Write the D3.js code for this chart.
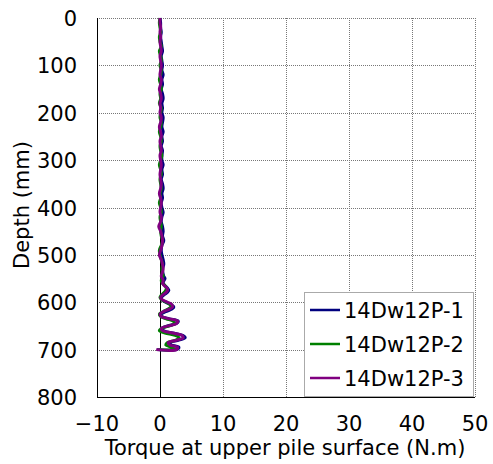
<!DOCTYPE html>
<html>
<head>
<meta charset="utf-8">
<script src="https://cdn.jsdelivr.net/npm/d3@7"></script>
<style>
  body { margin: 0; background: #fff; }
  text { font-family: "DejaVu Sans", sans-serif; fill: #000; }
</style>
</head>
<body>
<div id="chart"></div>
<script>
// depth (mm) shared by the three series, last point closes the curve back at the pile tip
const depths = [
  0,10,20,30,40,50,60,70,80,90,100,110,120,130,140,150,160,170,180,190,
  200,210,220,230,240,250,260,270,280,290,300,310,320,330,340,350,360,370,380,390,
  400,410,420,430,440,450,460,470,480,490,500,510,520,530,540,
  545,550,555,560,565,570,575,580,585,590,595,600,605,610,615,620,625,630,635,640,
  645,650,655,660,665,670,675,680,685,690,695,700,700
];
const seriesNames = ["14Dw12P-1", "14Dw12P-2", "14Dw12P-3"];
const colors = ["#00007f", "#008000", "#800080"];

// torque (N.m)
const torqueP1 = [
  0.0,0.1,0.1,0.2,0.1,0.2,0.3,0.4,0.2,0.3,0.4,0.3,0.5,0.3,0.4,0.2,0.4,0.5,0.3,0.4,
  0.3,0.5,0.4,0.3,0.5,0.3,0.4,0.2,0.4,0.3,0.3,0.5,0.3,0.4,0.2,0.4,0.5,0.3,0.4,0.2,
  0.3,0.5,0.3,0.2,0.4,0.5,0.4,0.6,0.3,0.2,0.3,0.5,0.6,0.4,0.5,
  0.6,0.8,0.6,0.5,0.8,1.2,1.4,1.1,0.6,0.2,0.3,0.9,1.7,2.2,1.8,0.9,0.2,0.3,1.5,2.9,
  2.6,1.2,0.3,0.6,2.0,3.6,4.0,3.0,1.6,1.8,3.0,2.6,-0.5
];
const torqueP2 = [
  0.0,-0.1,0.0,0.1,-0.1,0.0,0.2,-0.1,0.1,0.2,0.0,0.2,0.1,-0.1,0.1,0.2,0.0,0.1,-0.1,0.2,
  0.1,0.0,0.2,0.1,-0.1,0.1,0.2,0.0,0.1,0.3,0.1,-0.1,0.1,0.2,0.0,0.1,0.2,0.0,0.1,-0.1,
  0.1,0.2,0.0,0.1,0.2,0.1,0.2,0.4,0.2,-0.1,0.0,0.2,0.4,0.3,0.4,
  0.5,0.3,0.2,0.4,0.8,1.0,0.9,0.6,0.2,0.0,0.3,1.0,1.6,1.7,1.2,0.5,-0.1,0.1,1.0,2.1,
  2.3,1.5,0.3,-0.1,0.8,2.4,3.0,2.5,1.2,0.9,1.8,2.4,-0.3
];
const torqueP3 = [
  0.0,0.0,0.1,0.0,0.1,0.0,0.1,0.2,0.0,0.1,0.2,0.1,0.0,0.2,0.1,-0.1,0.1,0.2,0.0,0.1,
  0.0,0.2,0.1,-0.1,0.1,0.2,0.0,0.1,0.2,0.0,0.1,0.2,0.1,0.0,0.1,0.2,0.1,-0.1,0.1,0.2,
  0.1,0.0,0.2,0.1,-0.2,0.1,0.3,0.4,0.3,0.1,-0.1,0.2,0.4,0.5,0.3,
  0.2,0.4,0.5,0.4,0.7,1.1,1.2,0.9,0.4,0.1,0.4,1.2,1.9,2.0,1.4,0.5,0.0,0.2,1.5,2.8,
  2.6,1.3,0.2,0.4,2.0,3.5,3.7,2.7,1.3,1.6,2.8,2.6,-0.6
];
const xTicks = [-10, 0, 10, 20, 30, 40, 50];
const yTicks = [0, 100, 200, 300, 400, 500, 600, 700, 800];

const width = 493, height = 464;
const margin = {left: 97, right: 18, top: 18, bottom: 67};

const svg = d3.select("#chart").append("svg")
    .attr("width", width)
    .attr("height", height);

const x = d3.scaleLinear().domain([-10, 50]).range([margin.left, width - margin.right]);
const y = d3.scaleLinear().domain([0, 800]).range([margin.top, height - margin.bottom]);

// grid (dotted, includes top and right border)
const grid = svg.append("g").attr("stroke", "#777").attr("stroke-dasharray", "1,1").attr("stroke-width", 1);
grid.selectAll(".gx").data(xTicks.filter(d => d > 0))
  .enter().append("line")
    .attr("x1", d => Math.round(x(d)) + 0.5).attr("x2", d => Math.round(x(d)) + 0.5)
    .attr("y1", y(0)).attr("y2", y(800));
grid.selectAll(".gy").data(yTicks.filter(d => d < 800))
  .enter().append("line")
    .attr("y1", d => Math.round(y(d)) + 0.5).attr("y2", d => Math.round(y(d)) + 0.5)
    .attr("x1", x(-10)).attr("x2", x(50));

// zero line
svg.append("line")
    .attr("x1", Math.round(x(0)) + 0.5).attr("x2", Math.round(x(0)) + 0.5)
    .attr("y1", y(0)).attr("y2", y(800))
    .attr("stroke", "#000").attr("stroke-width", 1);

// curves
const allSeries = [torqueP1, torqueP2, torqueP3];
const line = d3.line()
    .x(d => x(d[0]))
    .y(d => y(d[1]))
    .curve(d3.curveCatmullRom.alpha(0.5));

allSeries.forEach((vals, i) => {
  const pts = vals.map((v, k) => [v, depths[k]]);
  svg.append("path")
      .datum(pts)
      .attr("d", line)
      .attr("fill", "none")
      .attr("stroke", colors[i])
      .attr("stroke-width", 3)
      .attr("stroke-linejoin", "round");
});

// axes (left and bottom solid)
svg.append("line")
    .attr("x1", x(-10) + 0.5).attr("x2", x(-10) + 0.5)
    .attr("y1", y(0)).attr("y2", y(800) + 0.5)
    .attr("stroke", "#000");
svg.append("line")
    .attr("x1", x(-10)).attr("x2", x(50))
    .attr("y1", Math.round(y(800)) + 0.5).attr("y2", Math.round(y(800)) + 0.5)
    .attr("stroke", "#000");

// tick labels
svg.selectAll(".ylab").data(yTicks)
  .enter().append("text")
    .attr("x", 77)
    .attr("y", d => y(d) + 8)
    .attr("text-anchor", "end")
    .style("font-size", "21px")
    .text(d => d);
svg.selectAll(".xlab").data(xTicks)
  .enter().append("text")
    .attr("x", d => x(d))
    .attr("y", 431)
    .attr("text-anchor", "middle")
    .style("font-size", "21px")
    .text(d => d < 0 ? "\u2212" + Math.abs(d) : d);

// axis titles
svg.append("text")
    .attr("x", 285).attr("y", 455)
    .attr("text-anchor", "middle")
    .style("font-size", "21px")
    .text("Torque at upper pile surface (N.m)");
svg.append("text")
    .attr("transform", "translate(29,205) rotate(-90)")
    .attr("text-anchor", "middle")
    .style("font-size", "21px")
    .text("Depth (mm)");

// legend
const legend = svg.append("g").attr("transform", "translate(304,292)");
legend.append("rect")
    .attr("x", 0.5).attr("y", 0.5)
    .attr("width", 169).attr("height", 104)
    .attr("fill", "#fff")
    .attr("stroke", "#aaa");
seriesNames.forEach((name, i) => {
  const g = legend.append("g").attr("transform", "translate(0," + (18 + i * 34) + ")");
  g.append("line")
      .attr("x1", 6).attr("x2", 36)
      .attr("stroke", colors[i]).attr("stroke-width", 2.5);
  g.append("text")
      .attr("x", 40).attr("y", 7.5)
      .style("font-size", "21px")
      .text(name);
});
</script>
</body>
</html>
